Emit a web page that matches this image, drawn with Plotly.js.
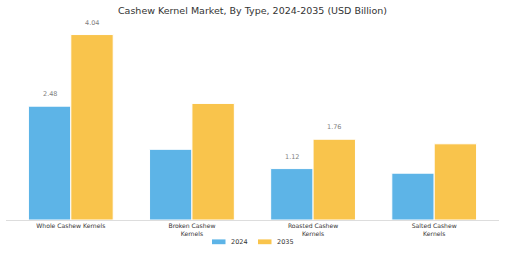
<!DOCTYPE html>
<html>
<head>
<meta charset="utf-8">
<script src="https://cdn.plot.ly/plotly-3.0.1.min.js"></script>
<style>html,body{margin:0;padding:0;background:#fff;}#chart{width:505px;height:253px;}</style>
</head>
<body>
<div id="chart"></div>
<script>
const categories = ['Whole Cashew Kernels', 'Broken Cashew<br>Kernels', 'Roasted Cashew<br>Kernels', 'Salted Cashew<br>Kernels'];
const seriesNames = ['2024', '2035'];
const values2024 = [2.48, 1.54, 1.12, 1.02];
const values2035 = [4.04, 2.54, 1.76, 1.66];
const showLabel = [true, false, true, false];
const colors = ['#5DB4E7', '#F9C44C'];

const W = 505, H = 253;
const M = {l: 6, r: 6, t: 25, b: 33};
const pw = W - M.l - M.r, ph = H - M.t - M.b;
const px2x = px => (px - M.l) / pw;
const py2y = py => (H - M.b - py) / ph;

const series = [values2024, values2035];
const traces = series.map((vals, k) => ({
  type: 'bar',
  name: seriesNames[k],
  x: categories,
  y: vals,
  marker: {color: colors[k], line: {color: '#ffffff', width: 1}},
  hoverinfo: 'skip',
  showlegend: false
}));

const annotations = [];
const half = 0.175;
series.forEach((vals, k) => {
  vals.forEach((v, i) => {
    if (!showLabel[i]) return;
    annotations.push({
      x: i + (k === 0 ? -half : half), y: v, xref: 'x', yref: 'y',
      text: v.toFixed(2), showarrow: false, yanchor: 'middle', yshift: 12,
      font: {family: 'DejaVu Sans', size: 6.5, color: '#808080'}
    });
  });
});

// custom legend
const shapes = [];
const legendX = [212, 258];
seriesNames.forEach((name, k) => {
  shapes.push({type: 'rect', xref: 'paper', yref: 'paper',
    x0: px2x(legendX[k]), x1: px2x(legendX[k] + 13.5),
    y0: py2y(244.2), y1: py2y(239.4),
    fillcolor: colors[k], line: {width: 0}});
  annotations.push({xref: 'paper', yref: 'paper', x: px2x(legendX[k] + 17), y: py2y(241.8),
    xanchor: 'left', yanchor: 'middle', showarrow: false, text: name,
    font: {family: 'DejaVu Sans', size: 6.5, color: '#333333'}});
});

const layout = {
  width: W, height: H,
  margin: M,
  paper_bgcolor: '#ffffff', plot_bgcolor: '#ffffff',
  barmode: 'group', bargap: 0.3, bargroupgap: 0,
  title: {text: 'Cashew Kernel Market, By Type, 2024-2035 (USD Billion)',
    x: 0.5, xanchor: 'center', y: 1 - 10.5 / H, yanchor: 'middle', yref: 'container',
    font: {family: 'DejaVu Sans', size: 9.5, color: '#333333'}},
  xaxis: {type: 'category', range: [-0.535, 3.535], showline: true, linecolor: '#dddddd', linewidth: 1,
    showgrid: false, zeroline: false, ticks: '', tickfont: {family: 'DejaVu Sans', size: 6.1, color: '#333333'}},
  yaxis: {range: [0, ph / 45.9], visible: false, showgrid: false, zeroline: false},
  showlegend: false,
  annotations: annotations,
  shapes: shapes
};

Plotly.newPlot('chart', traces, layout, {staticPlot: true, displayModeBar: false});
</script>
</body>
</html>
